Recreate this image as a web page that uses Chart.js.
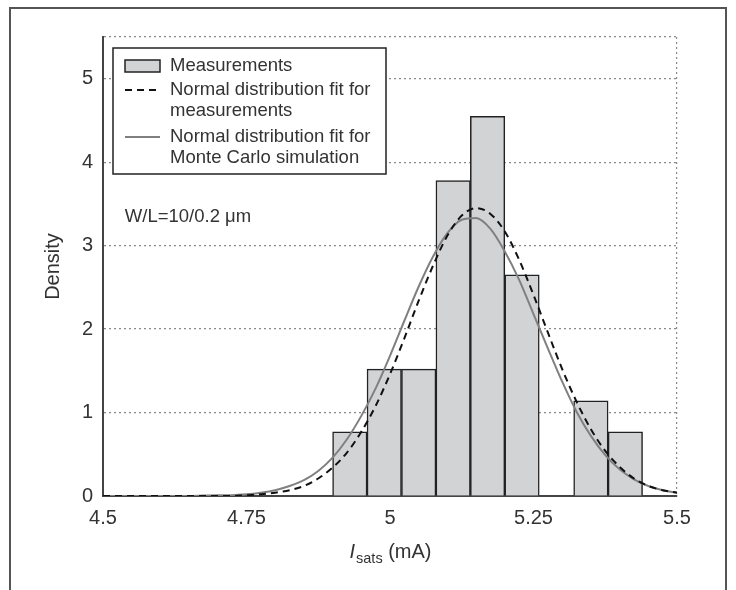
<!doctype html>
<html lang="en">
<head>
<meta charset="utf-8">
<title>Isats density</title>
<script src="https://cdn.jsdelivr.net/npm/chart.js@4.4.1/dist/chart.umd.min.js"></script>
<style>
  html, body { margin: 0; padding: 0; background: #fff; }
  #wrap { position: relative; width: 736px; height: 590px; }
</style>
</head>
<body>
<div id="wrap"><canvas id="c" width="736" height="590"></canvas></div>
<script>
// histogram bins (centre of each 0.06 mA bin) and measured density
const binCenters = [4.93, 4.99, 5.05, 5.11, 5.17, 5.23, 5.29, 5.35, 5.41];
const density    = [0.77, 1.52, 1.52, 3.78, 4.55, 2.65, 0.00, 1.14, 0.77];

// fitted curves
const curveX = [4.50, 4.55, 4.60, 4.65, 4.70, 4.725, 4.75, 4.775, 4.80, 4.825, 4.85, 4.875,
                4.90, 4.925, 4.95, 4.975, 5.00, 5.025, 5.05, 5.075, 5.10, 5.125, 5.15, 5.175,
                5.20, 5.225, 5.25, 5.275, 5.30, 5.325, 5.35, 5.375, 5.40, 5.425, 5.45, 5.475, 5.50];
const fitMeasured = [0.00, 0.00, 0.00, 0.00, 0.00, 0.00, 0.01, 0.02, 0.04, 0.07, 0.12, 0.21,
                     0.34, 0.52, 0.77, 1.08, 1.46, 1.89, 2.34, 2.76, 3.12, 3.36, 3.45, 3.38,
                     3.17, 2.83, 2.41, 1.96, 1.52, 1.13, 0.80, 0.54, 0.35, 0.21, 0.12, 0.07, 0.04];
const fitMonteCarlo = [0.00, 0.00, 0.00, 0.00, 0.01, 0.01, 0.02, 0.04, 0.07, 0.12, 0.19, 0.30,
                       0.46, 0.68, 0.96, 1.29, 1.68, 2.10, 2.51, 2.87, 3.15, 3.31, 3.33, 3.20,
                       2.93, 2.59, 2.18, 1.77, 1.37, 1.01, 0.72, 0.49, 0.32, 0.20, 0.12, 0.07, 0.04];

const xTicks = [4.5, 4.75, 5, 5.25, 5.5];
const yTicks = [0, 1, 2, 3, 4, 5];
const X_MIN = 4.5, X_MAX = 5.5, Y_MIN = 0, Y_MAX = 5.5;

const INK = '#333';
const FONT = '"Liberation Sans", Arial, sans-serif';

// outer frame round the whole figure
const framePlugin = {
  id: 'frame',
  beforeDraw(chart) {
    const { ctx } = chart;
    ctx.save();
    ctx.strokeStyle = '#555';
    ctx.lineWidth = 2;
    ctx.strokeRect(10, 8, 716, 700);
    ctx.restore();
  },
};

// legend box, annotation and x title with subscript
const extrasPlugin = {
  id: 'extras',
  afterDatasetsDraw(chart) {
    const { ctx, chartArea, scales } = chart;
    const ds = chart.data.datasets;
    ctx.save();

    // legend
    const bx = chartArea.left + 10, by = chartArea.top + 11, bw = 273, bh = 126;
    ctx.fillStyle = '#fff';
    ctx.fillRect(bx, by, bw, bh);
    ctx.strokeStyle = '#222';
    ctx.lineWidth = 1.5;
    ctx.strokeRect(bx, by, bw, bh);

    const sx = bx + 12, sw = 35, tx = bx + 57;
    const rows = [18, 42, 89];
    ctx.font = '18.5px ' + FONT;
    ctx.fillStyle = INK;
    ctx.textBaseline = 'middle';
    ctx.textAlign = 'left';
    ds.forEach((d, i) => {
      const cy = by + rows[i];
      if (d.type === 'bar') {
        ctx.fillStyle = d.backgroundColor;
        ctx.fillRect(sx, cy - 6, sw, 12);
        ctx.strokeStyle = d.borderColor;
        ctx.lineWidth = 1.5;
        ctx.strokeRect(sx, cy - 6, sw, 12);
      } else {
        ctx.strokeStyle = d.borderColor;
        ctx.lineWidth = d.borderWidth;
        ctx.setLineDash(d.borderDash || []);
        ctx.beginPath();
        ctx.moveTo(sx, cy);
        ctx.lineTo(sx + sw, cy);
        ctx.stroke();
        ctx.setLineDash([]);
      }
      ctx.fillStyle = INK;
      d.label.split('\n').forEach((line, k) => {
        ctx.fillText(line, tx, cy + k * 21);
      });
    });

    // annotation
    ctx.font = '18.5px ' + FONT;
    ctx.fillStyle = INK;
    ctx.fillText('W/L=10/0.2 \u03bcm', scales.x.getPixelForValue(4.538), scales.y.getPixelForValue(3.35));

    // x title: I_sats (mA)
    const cx = (chartArea.left + chartArea.right) / 2;
    const ty = 551;
    const f1 = 'italic 20px ' + FONT, f2 = '14.5px ' + FONT, f3 = '20px ' + FONT;
    ctx.font = f1; const w1 = ctx.measureText('I').width;
    ctx.font = f2; const w2 = ctx.measureText('sats').width;
    ctx.font = f3; const w3 = ctx.measureText(' (mA)').width;
    let x = cx - (w1 + w2 + w3) / 2;
    ctx.textBaseline = 'alphabetic';
    ctx.font = f1; ctx.fillText('I', x, ty + 7); x += w1 + 1;
    ctx.font = f2; ctx.fillText('sats', x, ty + 12); x += w2;
    ctx.font = f3; ctx.fillText(' (mA)', x, ty + 7);

    ctx.restore();
  },
};

new Chart(document.getElementById('c'), {
  type: 'bar',
  data: {
    datasets: [
      {
        type: 'bar',
        label: 'Measurements',
        data: binCenters.map((x, i) => ({ x, y: density[i] })),
        backgroundColor: '#d2d3d5',
        borderColor: '#222',
        borderWidth: 1.5,
        barPercentage: 1.0,
        categoryPercentage: 1.0,
        order: 3,
      },
      {
        type: 'line',
        label: 'Normal distribution fit for\nmeasurements',
        data: curveX.map((x, i) => ({ x, y: fitMeasured[i] })),
        borderColor: '#111',
        borderWidth: 2,
        borderDash: [7, 5],
        pointRadius: 0,
        cubicInterpolationMode: 'monotone',
        fill: false,
        order: 1,
      },
      {
        type: 'line',
        label: 'Normal distribution fit for\nMonte Carlo simulation',
        data: curveX.map((x, i) => ({ x, y: fitMonteCarlo[i] })),
        borderColor: '#808080',
        borderWidth: 2,
        pointRadius: 0,
        cubicInterpolationMode: 'monotone',
        fill: false,
        order: 2,
      },
    ],
  },
  options: {
    responsive: false,
    animation: false,
    events: [],
    layout: { padding: { left: 0, top: 37, right: 59, bottom: 0 } },
    plugins: { legend: { display: false }, tooltip: { enabled: false } },
    scales: {
      x: {
        type: 'linear',
        min: X_MIN,
        max: X_MAX,
        offset: false,
        afterBuildTicks: (s) => { s.ticks = xTicks.map((v) => ({ value: v })); },
        afterFit: (s) => { s.height = 94; },
        grid: {
          offset: false,
          drawTicks: false,
          lineWidth: 1.2,
          color: (c) => (c.tick && c.tick.value === X_MAX ? '#8a8a8a' : 'rgba(0,0,0,0)'),
        },
        border: { display: true, color: '#444', width: 2, dash: [2, 3] },
        ticks: {
          padding: 10,
          color: INK,
          font: { family: FONT, size: 20 },
          callback: (v) => String(v),
        },
      },
      y: {
        min: Y_MIN,
        max: Y_MAX,
        afterBuildTicks: (s) => { s.ticks = yTicks.concat([Y_MAX]).map((v) => ({ value: v })); },
        afterFit: (s) => { s.width = 103; },
        grid: {
          drawTicks: false,
          lineWidth: 1.2,
          color: (c) => (c.tick && c.tick.value === 0 ? 'rgba(0,0,0,0)' : '#8a8a8a'),
        },
        border: { display: true, color: '#444', width: 2, dash: [2, 3] },
        ticks: {
          padding: 10,
          color: INK,
          font: { family: FONT, size: 20 },
          callback: (v) => (yTicks.includes(v) ? String(v) : ''),
        },
        title: {
          display: true,
          text: 'Density',
          color: INK,
          font: { family: FONT, size: 20 },
          padding: { top: 41.5, bottom: 0 },
        },
      },
    },
  },
  plugins: [framePlugin, extrasPlugin],
});
</script>
</body>
</html>
